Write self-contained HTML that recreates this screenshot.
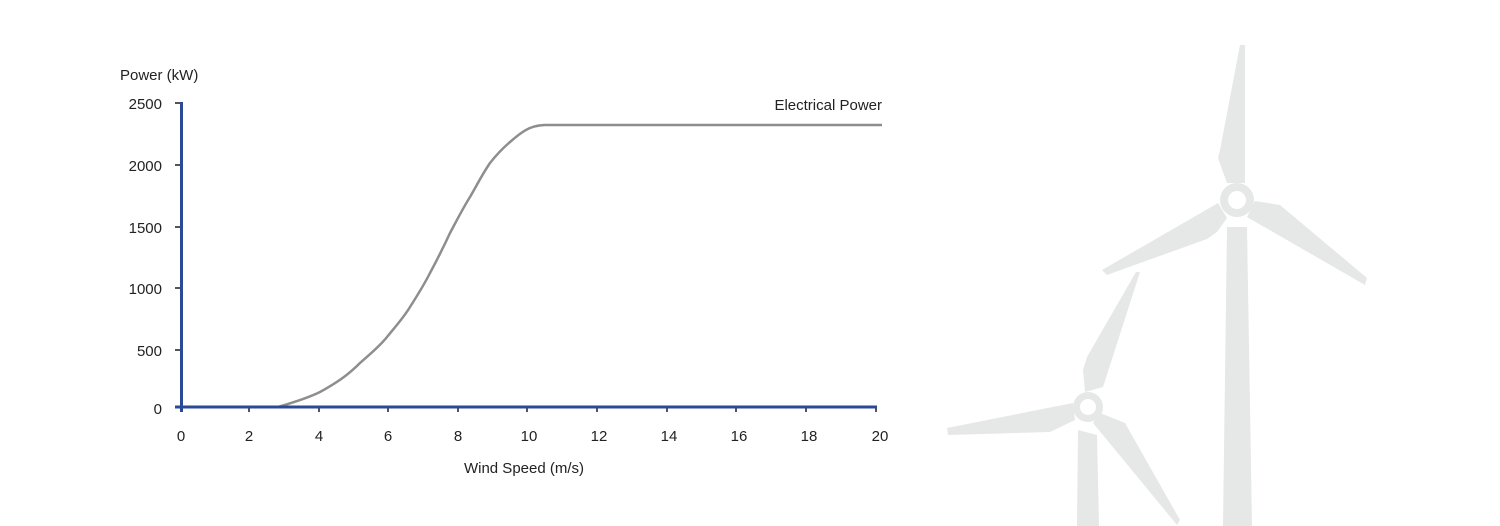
<!DOCTYPE html>
<html><head><meta charset="utf-8"><style>html,body{margin:0;padding:0;background:#fff}svg{display:block}</style></head><body>
<svg width="1500" height="526" viewBox="0 0 1500 526" xmlns="http://www.w3.org/2000/svg" font-family="'Liberation Sans Narrow','Liberation Sans',sans-serif" font-size="15" fill="#222">
<g fill="#e6e7e7">
<polygon points="1227,227 1247,227 1252,526 1223,526"/>
<polygon points="1240,45 1245,45 1245,183 1227,183 1218,158 1220,150"/>
<polygon points="1218,203 1102,270 1107,275 1207,239 1217,232 1227,218"/>
<polygon points="1255,201 1280,205 1367,278 1365,285 1247,217"/>
<circle cx="1237" cy="200" r="17"/>
<polygon points="1078,430 1097,435 1099,526 1077,526"/>
<polygon points="1136,272 1140,272 1103,387 1085,392 1083,370 1087,357"/>
<polygon points="1073,403 947,428 948,435 1050,432 1075,420"/>
<polygon points="1100,413 1125,423 1180,520 1177,525 1093,423"/>
<circle cx="1088" cy="407" r="15"/>
</g>
<circle cx="1237" cy="200" r="9" fill="#fff"/>
<circle cx="1088" cy="407" r="8" fill="#fff"/>
<g stroke="#555" stroke-width="2">
<line x1="175" y1="103" x2="181" y2="103"/><line x1="175" y1="165" x2="181" y2="165"/><line x1="175" y1="227" x2="181" y2="227"/><line x1="175" y1="288" x2="181" y2="288"/><line x1="175" y1="350" x2="181" y2="350"/>
<line x1="249" y1="407" x2="249" y2="412"/><line x1="319" y1="407" x2="319" y2="412"/><line x1="388" y1="407" x2="388" y2="412"/><line x1="458" y1="407" x2="458" y2="412"/><line x1="527" y1="407" x2="527" y2="412"/><line x1="597" y1="407" x2="597" y2="412"/><line x1="667" y1="407" x2="667" y2="412"/><line x1="736" y1="407" x2="736" y2="412"/><line x1="806" y1="407" x2="806" y2="412"/><line x1="876" y1="407" x2="876" y2="412"/>
</g>
<path fill="none" stroke="#8e8e8e" stroke-width="2.5" stroke-linejoin="round" d="M278,407 C295,402 310,397 320,392 C340,381 350,373 360,363 C370,354 380,346 387,337 C396,326 404,317 410,307 C417,296 424,285 430,273 C437,260 444,246 450,233 C457,220 463,208 470,197 C477,185 483,173 490,163 C497,154 503,148 510,142 C517,136 523,131 530,128 C535,126 539,125 545,125 L882,125"/>
<g stroke="#2a4a98" stroke-width="3">
<line x1="181.5" y1="102" x2="181.5" y2="412"/>
<line x1="175" y1="407" x2="877" y2="407"/>
</g>
<text x="120" y="80">Power (kW)</text>
<g text-anchor="end">
<text x="162" y="109">2500</text><text x="162" y="171">2000</text><text x="162" y="233">1500</text><text x="162" y="294">1000</text><text x="162" y="356">500</text><text x="162" y="414">0</text>
<text x="882" y="110">Electrical Power</text>
</g>
<g text-anchor="middle">
<text x="181" y="441">0</text><text x="249" y="441">2</text><text x="319" y="441">4</text><text x="388" y="441">6</text><text x="458" y="441">8</text><text x="529" y="441">10</text><text x="599" y="441">12</text><text x="669" y="441">14</text><text x="739" y="441">16</text><text x="809" y="441">18</text><text x="880" y="441">20</text>
<text x="524" y="473">Wind Speed (m/s)</text>
</g>
</svg>
</body></html>
